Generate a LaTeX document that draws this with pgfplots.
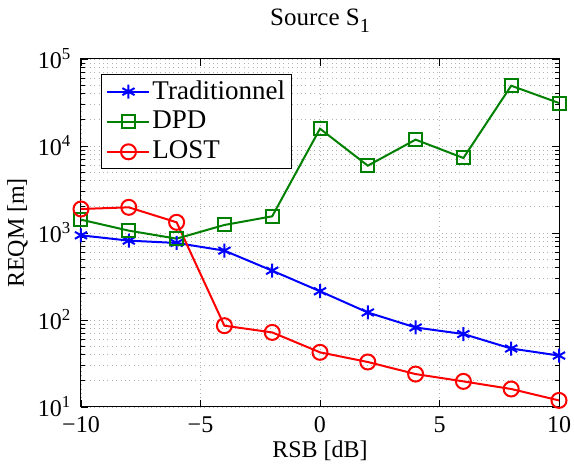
\documentclass[border=0pt]{standalone}
\usepackage{fontspec}
\setmainfont{Liberation Serif}
\usepackage{pgfplots}
\pgfplotsset{compat=1.18}
\definecolor{mblue}{rgb}{0,0,1}
\definecolor{mgreen}{rgb}{0,0.5,0}
\definecolor{mred}{rgb}{1,0,0}
\begin{document}
\fontsize{24}{28}\selectfont
\begin{tikzpicture}
\useasboundingbox (-81pt,-61pt) rectangle (493pt,407pt);
\begin{axis}[
  scale only axis, width=478pt, height=348pt,
  at={(0,0)}, anchor=south west,
  ymode=log, xmin=-10, xmax=10, ymin=10, ymax=1e5,
  xtick={-10,-5,0,5,10}, xticklabels={−10,−5,0,5,10},
  ytick={10,100,1000,10000,100000},
  yticklabels={10\textsuperscript{1},10\textsuperscript{2},10\textsuperscript{3},10\textsuperscript{4},10\textsuperscript{5}},
  ticklabel style={font=\fontsize{24}{28}\selectfont},
  xticklabel style={anchor=base, yshift=-26pt},
  yticklabel style={xshift=-2pt},
  label style={font=\fontsize{24}{28}\selectfont},
  title style={font=\fontsize{25}{29}\selectfont, at={(axis description cs:0.5,1)}, anchor=base, yshift=27pt},
  xlabel style={at={(axis description cs:0.5,0)}, anchor=base, yshift=-51pt},
  ylabel style={at={(axis description cs:-0.094,0.5)}, anchor=south},
  grid=both,
  major grid style={dash pattern=on 0.8pt off 3.6pt, gray!60, line width=0.7pt},
  minor grid style={dash pattern=on 0.8pt off 3.6pt, gray!60, line width=0.7pt},
  tick align=inside,
  major tick length=7pt, minor tick length=4pt,
  every tick/.style={black, line width=0.8pt},
  axis line style={line width=1pt},
  title={Source S\raisebox{-7pt}{\fontsize{20}{22}\selectfont 1}},
  xlabel={RSB [dB]},
  ylabel={REQM [m]},
  legend style={at={(axis description cs:0.0418,0.957)}, anchor=north west,
    draw=black, line width=1pt, font=\fontsize{27}{31}\selectfont,
    row sep=4.5pt, inner xsep=5pt, inner ysep=4pt, fill=white},
  legend cell align=left,
  legend image code/.code={\draw[mark repeat=2,mark phase=2,#1] plot coordinates {(0pt,0pt) (21pt,0pt) (42pt,0pt)};},
]
\addplot[color=mblue, line width=2pt, mark=asterisk, mark size=7pt, mark options={line width=2pt}] coordinates {
(-10,940) (-8,817) (-6,768) (-4,627) (-2,369) (0,214) (2,122) (4,82) (6,69) (8,47) (10,39)};
\addlegendentry{Traditionnel}
\addplot[color=mgreen, line width=2pt, mark=square, mark size=6.5pt, mark options={line width=2pt}] coordinates {
(-10,1423) (-8,1064) (-6,861) (-4,1236) (-2,1555) (0,15800) (2,5940) (4,11830) (6,7280) (8,49300) (10,31200)};
\addlegendentry{DPD}
\addplot[color=mred, line width=2pt, mark=o, mark size=7.5pt, mark options={line width=2pt}] coordinates {
(-10,1888) (-8,1972) (-6,1327) (-4,86) (-2,72) (0,42.5) (2,32.9) (4,23.9) (6,19.7) (8,16.1) (10,11.9)};
\addlegendentry{LOST}
\end{axis}
\end{tikzpicture}
\end{document}
